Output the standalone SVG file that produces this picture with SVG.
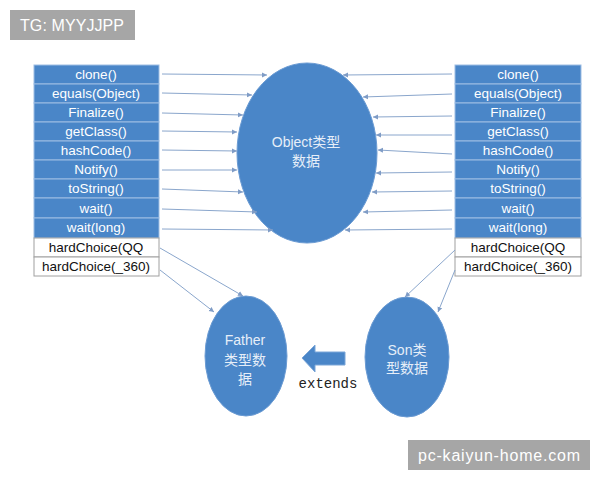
<svg xmlns="http://www.w3.org/2000/svg" width="600" height="480" viewBox="0 0 600 480">
<defs>
<marker id="ah" markerWidth="6" markerHeight="6" refX="5" refY="3" orient="auto" markerUnits="userSpaceOnUse">
<path d="M0,0.5 L5,3 L0,5.5 Z" fill="#7f9cc6"/>
</marker>
<style>
.row{fill:#4a86c8;stroke:#9dbde3;stroke-width:1}
.wrow{fill:#ffffff;stroke:#a0a0a0;stroke-width:1}
.rt{font-family:"Liberation Sans","Noto Sans CJK SC",sans-serif;font-size:13.5px;fill:#ffffff;text-anchor:middle}
.wt{font-family:"Liberation Sans","Noto Sans CJK SC",sans-serif;font-size:13.5px;fill:#111111;text-anchor:middle}
.el{fill:#4a86c8;stroke:#6b9bd3;stroke-width:1}
.et{font-family:"Liberation Sans","Noto Sans CJK SC",sans-serif;font-size:14px;fill:#e6eef8;text-anchor:middle}
.cn{stroke:#8aa6cc;stroke-width:1;fill:none;marker-end:url(#ah)}
.wm{fill:#a6a6a6}
.wmt{font-family:"Liberation Sans",sans-serif;font-size:16px;fill:#ffffff}
</style>
</defs>
<rect width="600" height="480" fill="#ffffff"/>

<g id="left-box">
<rect class="row" x="34" y="65" width="125" height="19"/>
<rect class="row" x="34" y="84" width="125" height="19"/>
<rect class="row" x="34" y="103" width="125" height="19"/>
<rect class="row" x="34" y="122" width="125" height="19"/>
<rect class="row" x="34" y="141" width="125" height="19"/>
<rect class="row" x="34" y="160" width="125" height="19"/>
<rect class="row" x="34" y="179" width="125" height="19"/>
<rect class="row" x="34" y="198" width="125" height="20"/>
<rect class="row" x="34" y="218" width="125" height="20"/>
<rect class="wrow" x="34" y="238" width="125" height="19"/>
<rect class="wrow" x="34" y="257" width="125" height="19"/>
<text class="rt" x="96" y="79">clone()</text>
<text class="rt" x="96" y="98">equals(Object)</text>
<text class="rt" x="96" y="117">Finalize()</text>
<text class="rt" x="96" y="136">getClass()</text>
<text class="rt" x="96" y="155">hashCode()</text>
<text class="rt" x="96" y="174">Notify()</text>
<text class="rt" x="96" y="193">toString()</text>
<text class="rt" x="96" y="213">wait()</text>
<text class="rt" x="96" y="232">wait(long)</text>
<text class="wt" x="96" y="252">hardChoice(QQ</text>
<text class="wt" x="96" y="271">hardChoice(_360)</text>
</g>

<g id="right-box">
<rect class="row" x="455" y="65" width="126" height="19"/>
<rect class="row" x="455" y="84" width="126" height="19"/>
<rect class="row" x="455" y="103" width="126" height="19"/>
<rect class="row" x="455" y="122" width="126" height="19"/>
<rect class="row" x="455" y="141" width="126" height="19"/>
<rect class="row" x="455" y="160" width="126" height="19"/>
<rect class="row" x="455" y="179" width="126" height="19"/>
<rect class="row" x="455" y="198" width="126" height="20"/>
<rect class="row" x="455" y="218" width="126" height="20"/>
<rect class="wrow" x="455" y="238" width="126" height="19"/>
<rect class="wrow" x="455" y="257" width="126" height="19"/>
<text class="rt" x="518" y="79">clone()</text>
<text class="rt" x="518" y="98">equals(Object)</text>
<text class="rt" x="518" y="117">Finalize()</text>
<text class="rt" x="518" y="136">getClass()</text>
<text class="rt" x="518" y="155">hashCode()</text>
<text class="rt" x="518" y="174">Notify()</text>
<text class="rt" x="518" y="193">toString()</text>
<text class="rt" x="518" y="213">wait()</text>
<text class="rt" x="518" y="232">wait(long)</text>
<text class="wt" x="518" y="252">hardChoice(QQ</text>
<text class="wt" x="518" y="271">hardChoice(_360)</text>
</g>

<g id="object">
<ellipse class="el" cx="307" cy="153" rx="70" ry="90"/>
<text class="et" x="306" y="147">Object类型</text>
<text class="et" x="306" y="166">数据</text>
</g>

<g id="father">
<ellipse class="el" cx="246" cy="356" rx="41" ry="60"/>
<text class="et" x="245" y="345">Father</text>
<text class="et" x="245" y="365">类型数</text>
<text class="et" x="245" y="384">据</text>
</g>

<g id="son">
<ellipse class="el" cx="407" cy="357" rx="42" ry="60"/>
<text class="et" x="407" y="355">Son类</text>
<text class="et" x="407" y="373">型数据</text>
</g>

<g id="extends">
<path d="M302,358 L315,345 L315,352 L345,352 L345,365 L315,365 L315,372 Z" fill="#4a86c8" stroke="#7ba6d8" stroke-width="1"/>
<text x="328" y="388" font-family="Liberation Mono, monospace" font-size="14" fill="#222222" text-anchor="middle">extends</text>
</g>

<g id="connectors">
<line class="cn" x1="162" y1="74" x2="267" y2="75"/>
<line class="cn" x1="162" y1="93" x2="252" y2="95"/>
<line class="cn" x1="162" y1="113" x2="243" y2="115"/>
<line class="cn" x1="162" y1="131" x2="237" y2="132"/>
<line class="cn" x1="162" y1="150" x2="237" y2="151"/>
<line class="cn" x1="162" y1="170" x2="237" y2="170"/>
<line class="cn" x1="162" y1="189" x2="243" y2="192"/>
<line class="cn" x1="162" y1="209" x2="257" y2="212"/>
<line class="cn" x1="162" y1="229" x2="273" y2="230"/>
<line class="cn" x1="452" y1="74" x2="343" y2="75"/>
<line class="cn" x1="452" y1="94" x2="363" y2="97"/>
<line class="cn" x1="452" y1="116" x2="373" y2="117"/>
<line class="cn" x1="452" y1="135" x2="376" y2="135"/>
<line class="cn" x1="452" y1="154" x2="378" y2="150"/>
<line class="cn" x1="452" y1="172" x2="376" y2="173"/>
<line class="cn" x1="452" y1="191" x2="372" y2="192"/>
<line class="cn" x1="452" y1="210" x2="363" y2="212"/>
<line class="cn" x1="452" y1="229" x2="345" y2="230"/>
<line class="cn" x1="160" y1="248" x2="243" y2="296"/>
<line class="cn" x1="160" y1="270" x2="214" y2="312"/>
<line class="cn" x1="455" y1="250" x2="405" y2="297"/>
<line class="cn" x1="455" y1="270" x2="438" y2="312"/>
</g>

<g id="watermarks">
<rect class="wm" x="10" y="10" width="125" height="30"/>
<text class="wmt" x="20" y="31" textLength="104">TG: MYYJJPP</text>
<rect class="wm" x="408" y="440" width="182" height="30"/>
<text class="wmt" x="418" y="461" textLength="162">pc-kaiyun-home.com</text>
</g>
</svg>
